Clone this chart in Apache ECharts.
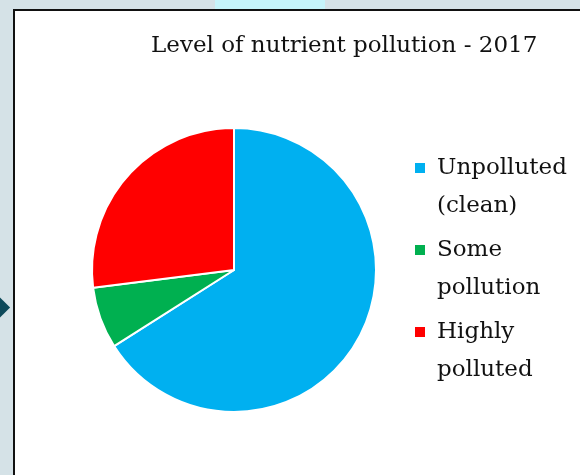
<!DOCTYPE html>
<html>
<head>
<meta charset="utf-8">
<script src="https://cdn.jsdelivr.net/npm/echarts@6/dist/echarts.min.js"></script>
<style>
  html, body { margin: 0; padding: 0; }
  body { width: 580px; height: 475px; background: #d5e2e7; position: relative; overflow: hidden; }
  #glow { position: absolute; left: 215px; top: 0; width: 110px; height: 10px; background: #c6f4fa; }
  #panel { position: absolute; left: 13px; top: 9px; right: -5px; bottom: -5px; background: #fff;
           border-left: 2px solid #111; border-top: 2px solid #111; }
  #arrow { position: absolute; left: -8px; top: 300px; width: 15px; height: 15px; background: #0e4a5b;
           transform: rotate(45deg); transform-origin: center; }
  #chart { position: absolute; left: 0; top: 0; width: 580px; height: 475px; }
</style>
</head>
<body>
<div id="glow"></div>
<div id="panel"></div>
<div id="arrow"></div>
<div id="chart"></div>
<script>
// pollution level shares, 2017
var categories = ['Unpolluted (clean)', 'Some pollution', 'Highly polluted'];
var labelLines = ['Unpolluted\n(clean)', 'Some\npollution', 'Highly\npolluted'];
var shares = [66, 7, 27];
var colors = ['#00b0f0', '#00b050', '#ff0000'];

var myChart = echarts.init(document.getElementById('chart'));

var pieData = [];
for (var i = 0; i < categories.length; i++) {
    pieData.push({
        name: categories[i],
        value: shares[i],
        itemStyle: { color: colors[i] }
    });
}

// square sits on the first text line; the extra move points just stretch the icon box
var legendIcon = 'path://M0,0 M18,76 M0,13 L12,13 L12,25 L0,25 Z';

var option = {
    backgroundColor: 'transparent',
    animation: false,
    title: {
        text: 'Level of nutrient pollution - 2017',
        left: 146,
        top: 30,
        textStyle: {
            fontFamily: 'DejaVu Serif',
            fontWeight: 'normal',
            fontSize: 23,
            color: '#111'
        }
    },
    legend: {
        orient: 'vertical',
        left: 413,
        top: 148,
        padding: 0,
        itemWidth: 18,
        itemHeight: 76,
        itemGap: 4,
        icon: legendIcon,
        selectedMode: false,
        data: categories,
        formatter: function(name) {
            return labelLines[categories.indexOf(name)];
        },
        textStyle: {
            fontFamily: 'DejaVu Serif',
            fontSize: 23,
            lineHeight: 38,
            color: '#111'
        }
    },
    series: [{
        type: 'pie',
        center: [234, 270],
        radius: 142,
        startAngle: 90,
        clockwise: true,
        label: { show: false },
        labelLine: { show: false },
        emphasis: { disabled: true },
        itemStyle: {
            borderColor: '#fff',
            borderWidth: 2
        },
        data: pieData
    }]
};

myChart.setOption(option);
</script>
</body>
</html>
